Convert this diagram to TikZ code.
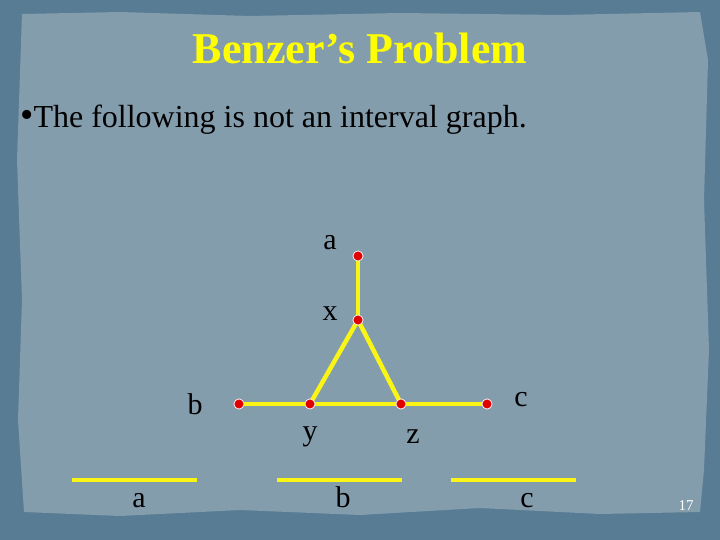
\documentclass[tikz,border=0pt]{standalone}
\usepackage{fontspec}
\setmainfont{Liberation Serif}
\definecolor{outerbg}{RGB}{88,124,148}
\definecolor{innerbg}{RGB}{132,157,173}
\definecolor{edgeyellow}{RGB}{250,245,20}
\definecolor{dotred}{RGB}{225,0,0}
\definecolor{titleyellow}{RGB}{255,255,0}
\tikzset{
  vdot/.style={circle,fill=dotred,draw=white,line width=0.6pt,inner sep=0pt,minimum size=10pt},
  gedge/.style={draw=edgeyellow,line width=4.5pt},
  ival/.style={draw=edgeyellow,line width=4pt},
  lbl/.style={inner sep=0pt,font=\fontsize{30}{32}\selectfont},
}
\begin{document}
\begin{tikzpicture}[x=1pt,y=-1pt]
\useasboundingbox (0,0) rectangle (720,540);
\fill[outerbg] (0,0) rectangle (720,540);
\fill[innerbg] (22,14) -- (120,12) -- (250,16) -- (400,13) -- (560,15) -- (700,12) -- (708,60) -- (704,200) -- (709,350) -- (704,470) -- (700,512) -- (600,514) -- (480,508) -- (360,515) -- (240,510) -- (120,516) -- (24,512) -- (18,420) -- (22,300) -- (17,160) -- cycle;
% title and text
\node[font=\bfseries\fontsize{44}{46}\selectfont,text=titleyellow,inner sep=0pt] (title) at (360,48) {Benzer’s Problem};
\node[font=\fontsize{32}{34}\selectfont,anchor=west,inner sep=0pt] (bullet) at (20,120) {{\fontsize{38}{38}\selectfont\textbullet}The following is not an interval graph.};
% graph
\node[vdot] (a) at (358,256) {};
\node[vdot] (x) at (358,320) {};
\node[vdot] (b) at (239,404) {};
\node[vdot] (y) at (310,404) {};
\node[vdot] (z) at (401,404) {};
\node[vdot] (c) at (487,404) {};
\draw[gedge] (a.center) -- (x.center);
\draw[gedge] (x.center) -- (y.center);
\draw[gedge] (x.center) -- (z.center);
\draw[gedge] (b.center) -- (y.center);
\draw[gedge] (y.center) -- (z.center);
\draw[gedge] (z.center) -- (c.center);
\foreach \n in {a,x,b,y,z,c} {\node[vdot] at (\n) {};}
\node[lbl] (la) at (330,243) {a};
\node[lbl] (lx) at (330,314) {x};
\node[lbl] (lb) at (195,404) {b};
\node[lbl] (lc) at (521,400) {c};
\node[lbl] (ly) at (310,437) {y};
\node[lbl] (lz) at (413,437) {z};
% intervals
\coordinate (ia1) at (72,480); \coordinate (ia2) at (197,480);
\coordinate (ib1) at (277,480); \coordinate (ib2) at (402,480);
\coordinate (ic1) at (451,480); \coordinate (ic2) at (576,480);
\draw[ival] (ia1) -- (ia2);
\draw[ival] (ib1) -- (ib2);
\draw[ival] (ic1) -- (ic2);
\node[lbl] (iva) at (139,501) {a};
\node[lbl] (ivb) at (343,497) {b};
\node[lbl] (ivc) at (527,501) {c};
\node[font=\fontsize{15}{16}\selectfont,text=white,inner sep=0pt] (pg) at (686,506) {17};
\end{tikzpicture}
\end{document}
